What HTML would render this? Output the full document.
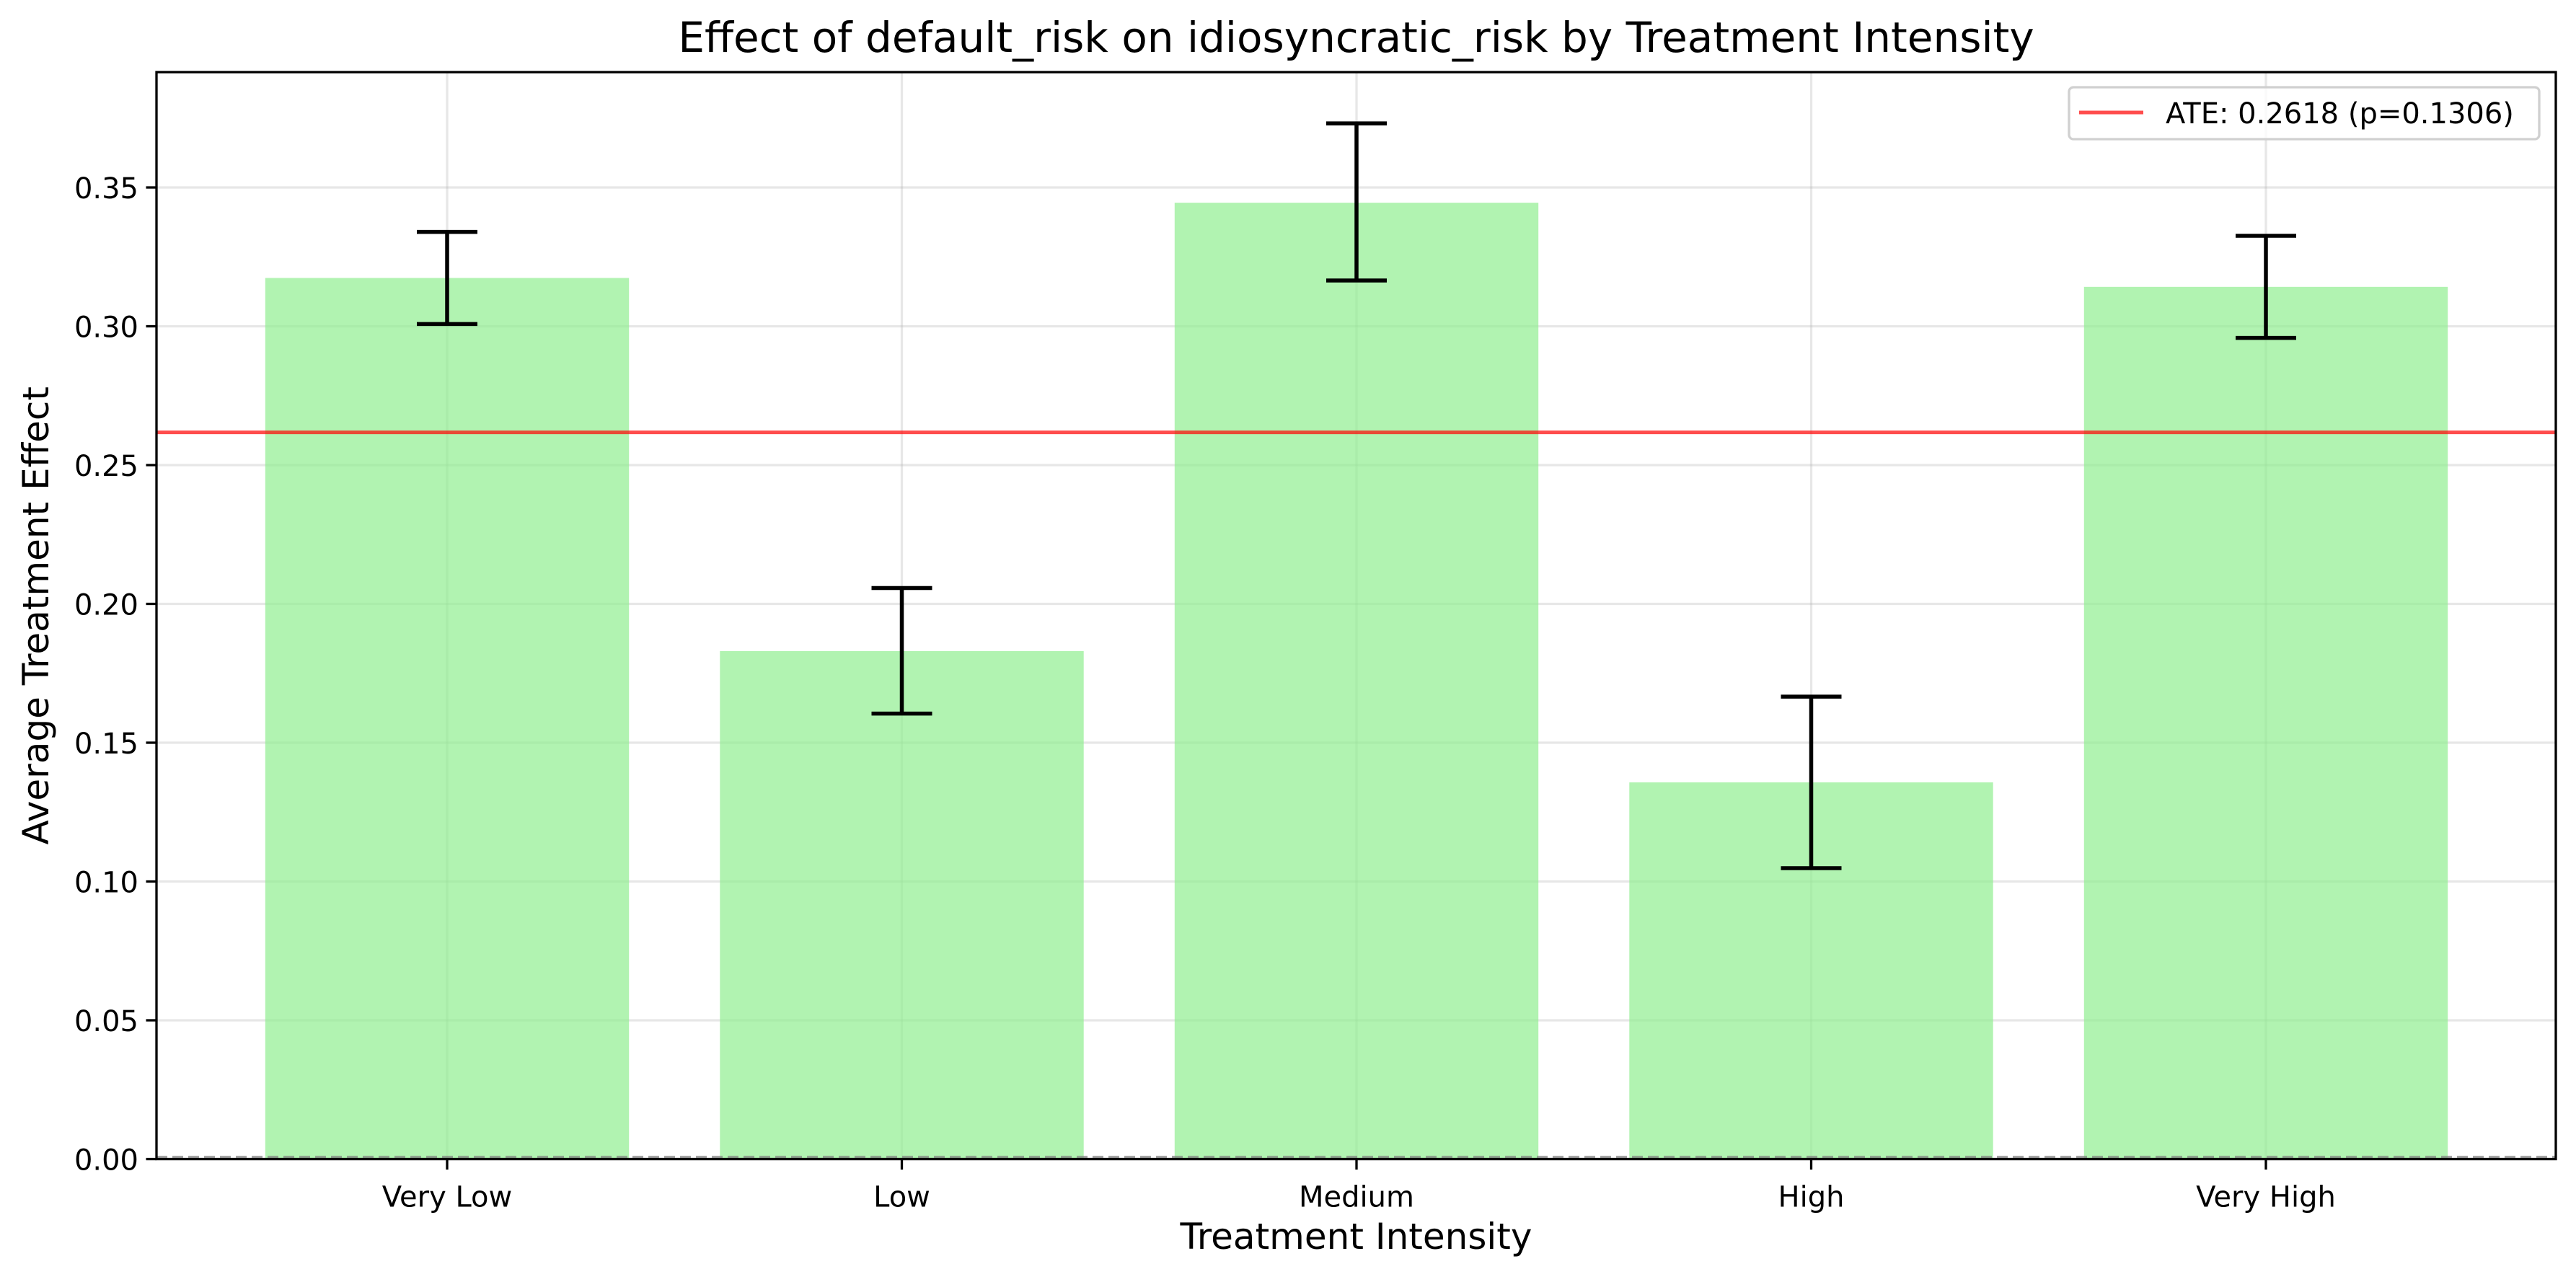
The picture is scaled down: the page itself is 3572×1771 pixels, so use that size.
<!DOCTYPE html>
<html><head><meta charset="utf-8"><style>
body{margin:0;background:#fff;}
svg{display:block;font-family:"DejaVu Sans","Liberation Sans",sans-serif;}
</style></head><body>
<svg id="chart" width="3572" height="1771" viewBox="0 0 3572 1771" xmlns="http://www.w3.org/2000/svg">
<rect width="3572" height="1771" fill="#fff"/>
<g id="grid"></g>
<g id="bars"></g>
<g id="errs"></g>
<g id="axes"></g>
</svg>
<script>
const categories = ["Very Low","Low","Medium","High","Very High"];
const effects = [0.3174, 0.1830, 0.3445, 0.1357, 0.3142];
const errLow = [0.3008, 0.1605, 0.3165, 0.1048, 0.2958];
const errHigh = [0.3340, 0.2057, 0.3731, 0.1666, 0.3326];
const yTicks = [0.00,0.05,0.10,0.15,0.20,0.25,0.30,0.35];
const yTickLabels = ["0.00","0.05","0.10","0.15","0.20","0.25","0.30","0.35"];
const ate = 0.2618;
const ateLabel = "ATE: 0.2618 (p=0.1306)";

const NS="http://www.w3.org/2000/svg";
const L=217,R=3544,T=100,B=1607.5;
const yMax=(B-T)/3850;
const xStep=630.5, x0=620;
function X(i){return x0+i*xStep;}
function Y(v){return B-(v/yMax)*(B-T);}
function mk(parent,tag,attrs){const e=document.createElementNS(NS,tag);for(const k in attrs)e.setAttribute(k,attrs[k]);document.getElementById(parent).appendChild(e);return e;}

yTicks.forEach((v,i)=>{
  const g=mk('grid','line',{x1:L,x2:R,y1:Y(v),y2:Y(v),stroke:'#b0b0b0','stroke-opacity':0.3,'stroke-width':3.3});
  
  
});
categories.forEach((c,i)=>{
  const g=mk('grid','line',{x1:X(i),x2:X(i),y1:T,y2:B,stroke:'#b0b0b0','stroke-opacity':0.3,'stroke-width':3.3});
  
  
});
const bw=0.8*xStep;
categories.forEach((c,i)=>{
  const r=mk('bars','rect',{x:X(i)-bw/2,y:Y(effects[i]),width:bw,height:B-Y(effects[i]),fill:'#90ee90','fill-opacity':0.7});
  
  
});
const z=mk('bars','line',{x1:L,x2:R,y1:B-3,y2:B-3,stroke:'#808080','stroke-opacity':0.7,'stroke-width':3.3,'stroke-dasharray':'15 7'});


const a=mk('bars','line',{x1:L,x2:R,y1:Y(ate),y2:Y(ate),stroke:'#ff0000','stroke-opacity':0.7,'stroke-width':5});


categories.forEach((c,i)=>{
  const g=mk('errs','g',{stroke:'#000','stroke-width':5.5});
  
  
  const x=X(i);
  const e1=document.createElementNS(NS,'line');
  [['x1',x],['x2',x],['y1',Y(errLow[i])],['y2',Y(errHigh[i])]].forEach(p=>e1.setAttribute(p[0],p[1]));g.appendChild(e1);
  [errLow[i],errHigh[i]].forEach(v=>{const c2=document.createElementNS(NS,'line');
    [['x1',x-42],['x2',x+42],['y1',Y(v)],['y2',Y(v)]].forEach(p=>c2.setAttribute(p[0],p[1]));g.appendChild(c2);});
});
const f=mk('axes','rect',{x:L,y:T,width:R-L,height:B-T,fill:'none',stroke:'#000','stroke-width':3.3});


yTicks.forEach((v,i)=>{
  const t=mk('axes','line',{x1:L-14.5,x2:L,y1:Y(v),y2:Y(v),stroke:'#000','stroke-width':3.3});
  
  
  const tx=mk('axes','text',{x:L-25,y:Y(v)+15,'text-anchor':'end','font-size':40,fill:'#000'});
  tx.textContent=yTickLabels[i];
  
  
});
categories.forEach((c,i)=>{
  const t=mk('axes','line',{x1:X(i),x2:X(i),y1:B,y2:B+14.5,stroke:'#000','stroke-width':3.3});
  
  
  const tx=mk('axes','text',{x:X(i),y:B+66,'text-anchor':'middle','font-size':40,fill:'#000'});
  tx.textContent=c;
  
  
});
const ti=mk('axes','text',{x:(L+R)/2,y:72,'text-anchor':'middle','font-size':58,fill:'#000'});
ti.textContent="Effect of default_risk on idiosyncratic_risk by Treatment Intensity";


const xl=mk('axes','text',{x:(L+R)/2,y:1732,'text-anchor':'middle','font-size':50,fill:'#000'});
xl.textContent="Treatment Intensity";


const yl=mk('axes','text',{x:0,y:0,'text-anchor':'middle','font-size':50,fill:'#000',transform:'translate(67,'+((T+B)/2)+') rotate(-90)'});
yl.textContent="Average Treatment Effect";


const lg=mk('axes','g',{});


const lb=document.createElementNS(NS,'rect');
[['x',2869],['y',121],['width',652],['height',72],['rx',6],['fill','#fff'],['fill-opacity',0.8],['stroke','#d0d0d0'],['stroke-width',3.3]].forEach(p=>lb.setAttribute(p[0],p[1]));lg.appendChild(lb);
const ll=document.createElementNS(NS,'line');
[['x1',2883],['x2',2972],['y1',156],['y2',156],['stroke','#ff0000'],['stroke-opacity',0.7],['stroke-width',5]].forEach(p=>ll.setAttribute(p[0],p[1]));lg.appendChild(ll);
const lt=document.createElementNS(NS,'text');
[['x',3003],['y',171],['font-size',40],['fill','#000']].forEach(p=>lt.setAttribute(p[0],p[1]));
lt.textContent=ateLabel;


lg.appendChild(lt);
</script>
</body></html>
